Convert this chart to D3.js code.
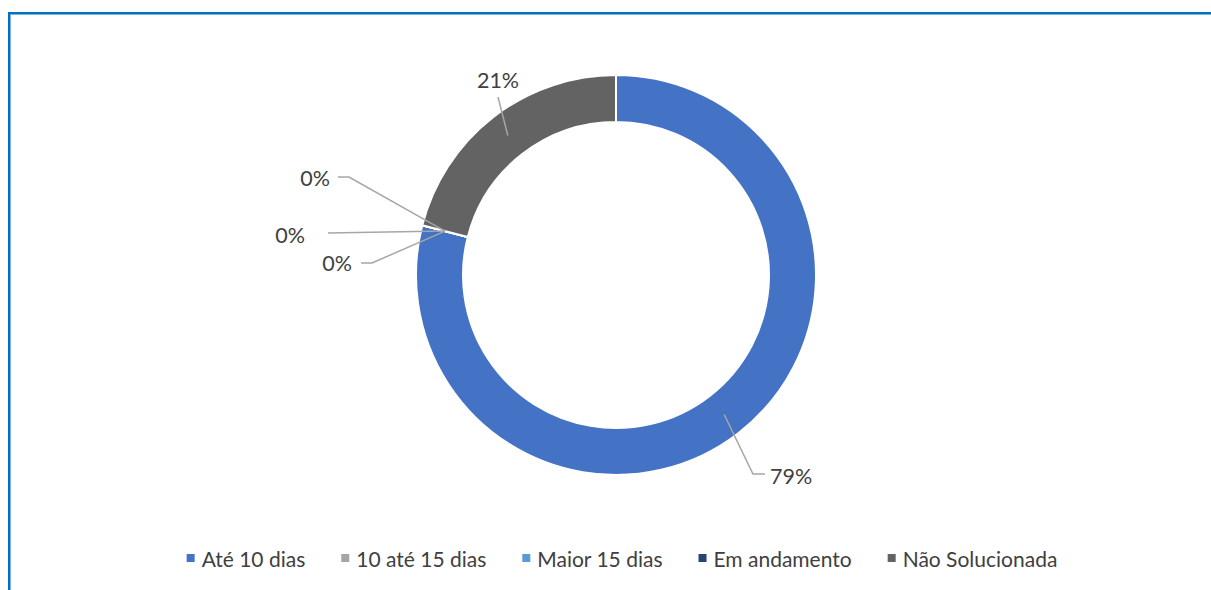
<!DOCTYPE html>
<html><head><meta charset="utf-8">
<script src="https://cdn.jsdelivr.net/npm/d3@7"></script>
<style>html,body{margin:0;padding:0;background:#fff;overflow:hidden}</style>
</head><body>
<svg id="c" width="1211" height="590"></svg>
<script>
const categories = ["Até 10 dias", "10 até 15 dias", "Maior 15 dias", "Em andamento", "Não Solucionada"];
const values = [79, 0, 0, 0, 21];
const colors = ["#4472C4", "#A5A5A5", "#5B9BD5", "#264478", "#636363"];

// layout (label placement relative to chart centre, Excel-style)
const labelLayout = [
  {tx: 154, ty: 201, anchor: "start", path: [[149,199],[137,199]]},
  {tx: -286, ty: -97, anchor: "end", path: [[-278,-98],[-267,-98]]},
  {tx: -311, ty: -40, anchor: "end", path: [[-288,-42]]},
  {tx: -264, ty: -12, anchor: "end", path: [[-255,-12],[-244,-12]]},
  {tx: -118, ty: -195, anchor: "middle", path: [[-118,-178]]}
];

const svg = d3.select("#c");
const font = "Lato, 'Open Sans', sans-serif";

// border
svg.append("rect").attr("x", 9).attr("y", 13).attr("width", 1300).attr("height", 700)
  .attr("fill", "none").attr("stroke", "#0070C0").attr("stroke-width", 2);
svg.append("rect").attr("x", 10.5).attr("y", 14.5).attr("width", 1300).attr("height", 700)
  .attr("fill", "none").attr("stroke", "#7fb2e0").attr("stroke-width", 1);

const cx = 616, cy = 275, rOuter = 200, rInner = 153;
const g = svg.append("g").attr("transform", `translate(${cx},${cy})`);

const total = d3.sum(values);
const pie = d3.pie().sort(null).value(d => d.v)(values.map((v, i) => ({v, i})));
const arc = d3.arc().innerRadius(rInner).outerRadius(rOuter);
const midArc = d3.arc().innerRadius((rInner + rOuter) / 2).outerRadius((rInner + rOuter) / 2);

g.selectAll("path.slice").data(pie).join("path")
  .attr("class", "slice")
  .attr("d", arc)
  .attr("fill", d => colors[d.data.i])
  .attr("stroke", "#fff").attr("stroke-width", 2);

const fmt = d3.format(".0%");
pie.forEach(d => {
  const L = labelLayout[d.data.i];
  const c = midArc.centroid(d);
  const pts = [c, ...L.path.slice().reverse()];
  g.append("path")
    .attr("d", d3.line()(pts))
    .attr("fill", "none").attr("stroke", "#A6A6A6").attr("stroke-width", 1.5);
  g.append("text")
    .attr("x", L.tx).attr("y", L.ty)
    .attr("text-anchor", L.anchor).attr("dominant-baseline", "central")
    .attr("font-family", font).attr("font-size", 21.5).attr("fill", "#404040")
    .text(fmt(d.data.v / total));
});

// legend
const lg = svg.append("g");
const items = lg.selectAll("g").data(categories).join("g");
items.append("rect").attr("width", 8).attr("height", 8).attr("y", -4)
  .attr("fill", (d, i) => colors[i]);
items.append("text").attr("x", 15).attr("dominant-baseline", "central")
  .attr("font-family", font).attr("font-size", 21).attr("fill", "#404040")
  .text(d => d);
let x = 0;
items.each(function() {
  const w = d3.select(this).select("text").node().getComputedTextLength();
  d3.select(this).attr("transform", `translate(${x},0)`);
  x += 15 + w + 36;
});
const legW = x - 36;
lg.attr("transform", `translate(${622 - legW / 2},558)`);
</script>
</body></html>
